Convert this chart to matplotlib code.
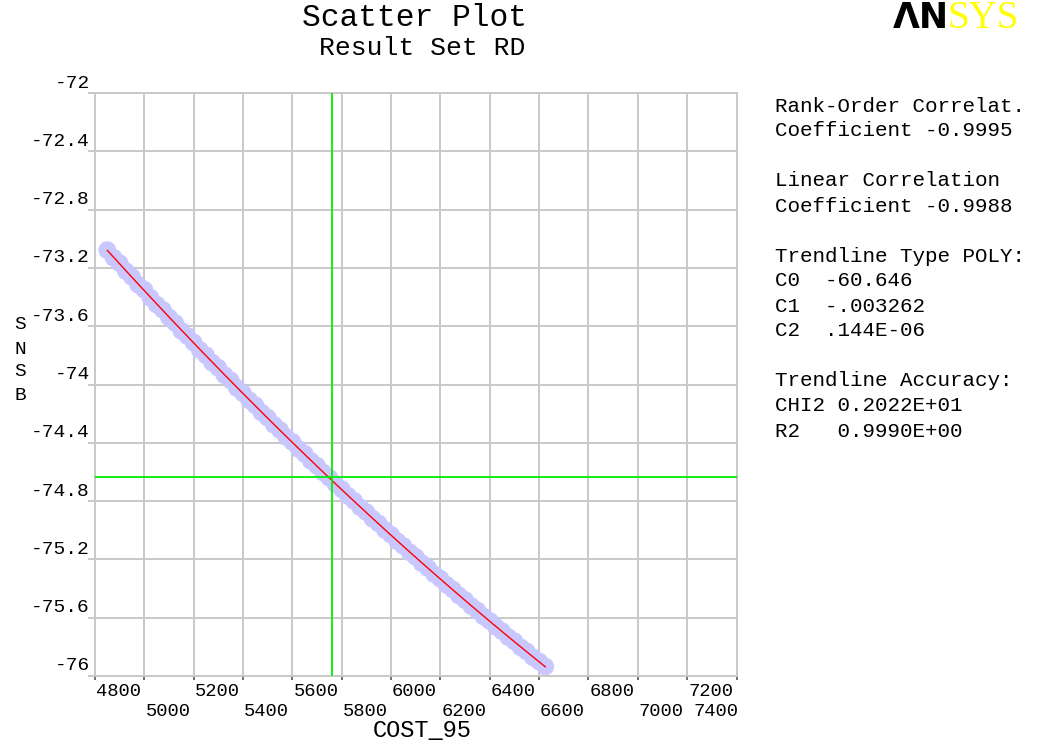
import numpy as np
import matplotlib
matplotlib.use("Agg")
import matplotlib.pyplot as plt

MONO = "Liberation Mono"

# scatter data (COST_95 vs SNSB)
cost_95 = [4850, 4875, 4900, 4925, 4950, 4975, 5000, 5025, 5050, 5075,
           5100, 5125, 5150, 5175, 5200, 5225, 5250, 5275, 5300, 5325,
           5350, 5375, 5400, 5425, 5450, 5475, 5500, 5525, 5550, 5575,
           5600, 5625, 5650, 5675, 5700, 5725, 5750, 5775, 5800, 5825,
           5850, 5875, 5900, 5925, 5950, 5975, 6000, 6025, 6050, 6075,
           6100, 6125, 6150, 6175, 6200, 6225, 6250, 6275, 6300, 6325,
           6350, 6375, 6400, 6425, 6450, 6475, 6500, 6525, 6550, 6575,
           6600, 6625]
snsb = [-73.078, -73.130, -73.168, -73.222, -73.262, -73.315, -73.350, -73.405,
        -73.452, -73.488, -73.540, -73.578, -73.632, -73.668, -73.712, -73.764,
        -73.800, -73.850, -73.886, -73.936, -73.972, -74.024, -74.060, -74.108,
        -74.143, -74.192, -74.228, -74.276, -74.312, -74.360, -74.394, -74.442,
        -74.476, -74.524, -74.558, -74.604, -74.640, -74.684, -74.718, -74.764,
        -74.798, -74.843, -74.876, -74.921, -74.954, -74.998, -75.031, -75.075,
        -75.108, -75.151, -75.183, -75.227, -75.259, -75.301, -75.333, -75.375,
        -75.406, -75.448, -75.479, -75.520, -75.551, -75.592, -75.622, -75.663,
        -75.693, -75.733, -75.762, -75.803, -75.832, -75.872, -75.900, -75.935]

# trendline coefficients C0, C1, C2 (as printed)
trend_coef = [-60.646, -0.003262, 0.144e-6]
mean_cost = 5760
mean_snsb = -74.635

x_ticks = [4800, 5000, 5200, 5400, 5600, 5800, 6000, 6200, 6400, 6600, 6800, 7000, 7200, 7400]
y_ticks = [-72, -72.4, -72.8, -73.2, -73.6, -74, -74.4, -74.8, -75.2, -75.6, -76]
y_tick_labels = ["-72", "-72.4", "-72.8", "-73.2", "-73.6", "-74", "-74.4", "-74.8",
                 "-75.2", "-75.6", "-76"]

info_lines = [
    (106, "Rank-Order Correlat."),
    (131, "Coefficient -0.9995"),
    (181, "Linear Correlation"),
    (206, "Coefficient -0.9988"),
    (256, "Trendline Type POLY:"),
    (281, "C0  -60.646"),
    (306, "C1  -.003262"),
    (331, "C2  .144E-06"),
    (381, "Trendline Accuracy:"),
    (406, "CHI2 0.2022E+01"),
    (431, "R2   0.9990E+00"),
]

W, H = 1040, 744
fig = plt.figure(figsize=(W / 100, H / 100), dpi=100)
ax = fig.add_axes([95 / W, 1 - 676 / H, (736.5 - 95) / W, (676 - 93) / H])

grid_c = "#c8c8c8"
ax.set_xlim(x_ticks[0], x_ticks[-1])
ax.set_ylim(y_ticks[-1], y_ticks[0])
for v in x_ticks[1:-1]:
    ax.axvline(v, color=grid_c, lw=1.4, zorder=0)
for v in y_ticks[1:-1]:
    ax.axhline(v, color=grid_c, lw=1.4, zorder=0)
for s in ax.spines.values():
    s.set_color(grid_c)
    s.set_linewidth(1.4)

ax.scatter(cost_95, snsb, s=165, marker="o", color="#c8c8ff", edgecolors="none", zorder=2)
cost_sorted = np.array(cost_95)
ax.plot(cost_sorted, np.polyval(trend_coef[::-1], cost_sorted), color="#ff0000", lw=1.0, zorder=3)
ax.axvline(mean_cost, color="#00ee00", lw=1.3, zorder=4)
ax.axhline(mean_snsb, color="#00ee00", lw=1.3, zorder=4)

# ticks: x ticks tiny, labels drawn by hand (two staggered rows)
ax.set_xticks(x_ticks)
ax.set_xticklabels([])
ax.set_yticks(y_ticks)
ax.set_yticklabels([])
ax.tick_params(axis="x", length=3, width=1.2, color="#555555", direction="out")
ax.tick_params(axis="y", length=5, width=1.4, color=grid_c, direction="out")

xt = ax.get_xaxis_transform()
for i, v in enumerate(x_ticks):
    off = -15 if i % 2 == 0 else -36
    ha = "left"
    xo = 1
    if v == x_ticks[-1]:
        ha, xo = "right", 2
    ax.annotate(str(v), xy=(v, 0), xycoords=xt, xytext=(xo, off), textcoords="offset pixels",
                ha=ha, va="center", fontsize=13.5, family=MONO)

yt = ax.get_yaxis_transform()
for v, lab in zip(y_ticks, y_tick_labels):
    ax.annotate(lab, xy=(0, v), xycoords=yt, xytext=(-5, 10), textcoords="offset pixels",
                ha="right", va="center", fontsize=14, family=MONO)

fig.text(422 / W, 1 - 731 / H, "COST_95", ha="center", va="center", fontsize=17, family=MONO)
for ch, yy in zip("SNSB", [325, 349, 372, 396]):
    fig.text(20 / W, 1 - yy / H, ch, ha="center", va="center", fontsize=14, family=MONO)

fig.text(415 / W, 1 - 18 / H, "Scatter Plot", ha="center", va="center", fontsize=22.5, family=MONO)
fig.text(422 / W, 1 - 48 / H, "Result Set RD", ha="center", va="center", fontsize=19, family=MONO)

for yy, line in info_lines:
    fig.text(775 / W, 1 - yy / H, line, ha="left", va="center", fontsize=15, family=MONO)

# logo
fig.text(893 / W, 1 - 28 / H, "\u039bN", ha="left", va="baseline", fontsize=25,
         fontweight="bold", family="DejaVu Sans", color="black")
fig.text(947 / W, 1 - 28 / H, "SYS", ha="left", va="baseline", fontsize=28,
         family="Liberation Serif", color="#ffff00")

fig.savefig("out.png", dpi=100)
